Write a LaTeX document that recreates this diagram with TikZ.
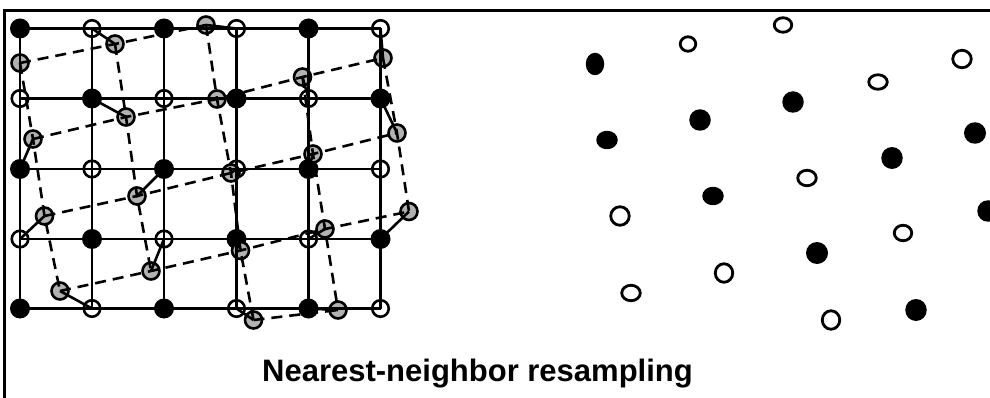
\documentclass[tikz,border=0pt]{standalone}
\usepackage{fontspec}
\setmainfont{Liberation Sans}
\usetikzlibrary{shapes.geometric}
\definecolor{dotgray}{RGB}{178,178,178}
\begin{document}
\begin{tikzpicture}[x=1pt,y=-1pt,
  solid dot/.style={circle,fill=black,draw=none,minimum size=20pt,inner sep=0pt},
  open dot/.style={circle,fill=white,draw=black,line width=2.6pt,minimum size=16.5pt,inner sep=0pt},
  gray dot/.style={circle,fill=dotgray,draw=black,line width=2.6pt,minimum size=17pt,inner sep=0pt},
  solid spot/.style 2 args={ellipse,fill=black,draw=none,minimum width=#1pt,minimum height=#2pt,inner sep=0pt},
  open spot/.style 2 args={ellipse,fill=white,draw=black,line width=2.8pt,minimum width=#1pt,minimum height=#2pt,inner sep=0pt},
  gridline/.style={line width=2.9pt},
  link/.style={line width=2.6pt},
  warp/.style={line width=2.6pt,dash pattern=on 11pt off 7pt},
  frame/.style={line width=2.7pt},
  title/.style={font=\bfseries\fontsize{31}{36}\selectfont,inner sep=0pt,anchor=base west}]
\useasboundingbox (0,0) rectangle (990,398);

% frame: top and left edges
\coordinate (frame-bl) at (4.5,398);
\coordinate (frame-tl) at (4.5,10.5);
\coordinate (frame-tr) at (990,10.5);
\draw[frame] (frame-bl) -- (frame-tl) -- (frame-tr);

% regular sampling grid, alternating filled and open samples
\foreach \c/\x in {0/20,1/92,2/164,3/236.5,4/308.5,5/380.5}
  \foreach \r/\y in {0/28.5,1/98.5,2/169,3/239,4/308.5} {
    \pgfmathtruncatemacro\parity{\c+\r}
    \ifodd\parity
      \node[open dot] (g-\c-\r) at (\x,\y) {};
    \else
      \node[solid dot] (g-\c-\r) at (\x,\y) {};
    \fi
  }

% warped sample positions
\node[gray dot] (p-0-0) at (20,63) {};
\node[gray dot] (p-1-0) at (115,44) {};
\node[gray dot] (p-2-0) at (206,25) {};
\node[gray dot] (p-0-1) at (33,139) {};
\node[gray dot] (p-1-1) at (126,117) {};
\node[gray dot] (p-2-1) at (217,99) {};
\node[gray dot] (p-3-1) at (302.5,77) {};
\node[gray dot] (p-4-1) at (383,58) {};
\node[gray dot] (p-0-2) at (44.5,216) {};
\node[gray dot] (p-1-2) at (137,196) {};
\node[gray dot] (p-2-2) at (231,173) {};
\node[gray dot] (p-3-2) at (313,154) {};
\node[gray dot] (p-4-2) at (397,133) {};
\node[gray dot] (p-0-3) at (60,291) {};
\node[gray dot] (p-1-3) at (151,271) {};
\node[gray dot] (p-2-3) at (240.5,250.5) {};
\node[gray dot] (p-3-3) at (325,229) {};
\node[gray dot] (p-4-3) at (409,211.5) {};
\node[gray dot] (p-2-4) at (253.5,320) {};
\node[gray dot] (p-3-4) at (338,310) {};

% grid lines
\foreach \r in {0,...,4}
  \draw[gridline] (g-0-\r.center) -- (g-5-\r.center);
\foreach \c in {0,...,5}
  \draw[gridline] (g-\c-0.center) -- (g-\c-4.center);

% each warped position joined to its nearest grid sample
\foreach \p/\g in {0-0/0-0,1-0/1-0,2-0/3-0,0-1/0-2,1-1/1-1,2-1/3-1,3-1/4-1,4-1/5-0,
                   0-2/0-3,1-2/2-2,2-2/3-2,3-2/4-2,4-2/5-1,0-3/1-4,1-3/2-3,2-3/3-3,
                   3-3/4-3,4-3/5-3,2-4/3-4,3-4/4-4}
  \draw[link] (p-\p.center) -- (g-\g.center);

% warped grid (dashed)
\draw[warp] (p-0-0.center) -- (p-1-0.center) -- (p-2-0.center);
\draw[warp] (p-0-1.center) -- (p-1-1.center) -- (p-2-1.center) -- (p-3-1.center) -- (p-4-1.center);
\draw[warp] (p-0-2.center) -- (p-1-2.center) -- (p-2-2.center) -- (p-3-2.center) -- (p-4-2.center);
\draw[warp] (p-0-3.center) -- (p-1-3.center) -- (p-2-3.center) -- (p-3-3.center) -- (p-4-3.center);
\draw[warp] (p-2-4.center) -- (p-3-4.center);
\draw[warp] (p-0-0.center) -- (p-0-1.center) -- (p-0-2.center) -- (p-0-3.center);
\draw[warp] (p-1-0.center) -- (p-1-1.center) -- (p-1-2.center) -- (p-1-3.center);
\draw[warp] (p-2-0.center) -- (p-2-1.center) -- (p-2-2.center) -- (p-2-3.center) -- (p-2-4.center);
\draw[warp] (p-3-1.center) -- (p-3-2.center) -- (p-3-3.center) -- (p-3-4.center);
\draw[warp] (p-4-1.center) -- (p-4-2.center) -- (p-4-3.center);

% resampled values
\node[solid spot={18.5}{22.5}] (q-0-0) at (595,64) {};
\node[open spot={15.5}{14.5}] (q-1-0) at (688,44) {};
\node[open spot={17.5}{14.5}] (q-2-0) at (783,25) {};
\node[solid spot={21.5}{18.5}] (q-0-1) at (607,140) {};
\node[solid spot={21.5}{21.5}] (q-1-1) at (700,120) {};
\node[solid spot={21.5}{21.5}] (q-2-1) at (793,102) {};
\node[open spot={18.5}{14.5}] (q-3-1) at (878,82) {};
\node[open spot={18.5}{17.5}] (q-4-1) at (962,59) {};
\node[open spot={18.5}{18.5}] (q-0-2) at (620,216) {};
\node[solid spot={21.5}{18.5}] (q-1-2) at (713,196) {};
\node[open spot={18.5}{15.5}] (q-2-2) at (807,178) {};
\node[solid spot={21.5}{22}] (q-3-2) at (892,158) {};
\node[solid spot={22}{21.5}] (q-4-2) at (975,133) {};
\node[open spot={18.5}{15.5}] (q-0-3) at (631,293) {};
\node[open spot={17.5}{18.5}] (q-1-3) at (724,273) {};
\node[solid spot={22}{22}] (q-2-3) at (817,253) {};
\node[open spot={17.5}{15.5}] (q-3-3) at (903,233) {};
\node[solid spot={21.5}{21.5}] (q-4-3) at (988,211) {};
\node[open spot={17.5}{18.5}] (q-2-4) at (831,320) {};
\node[solid spot={21.5}{22}] (q-3-4) at (916,310) {};

% caption
\node[title] (caption) at (262,381.7) {Nearest-neighbor resampling};
\end{tikzpicture}
\end{document}
